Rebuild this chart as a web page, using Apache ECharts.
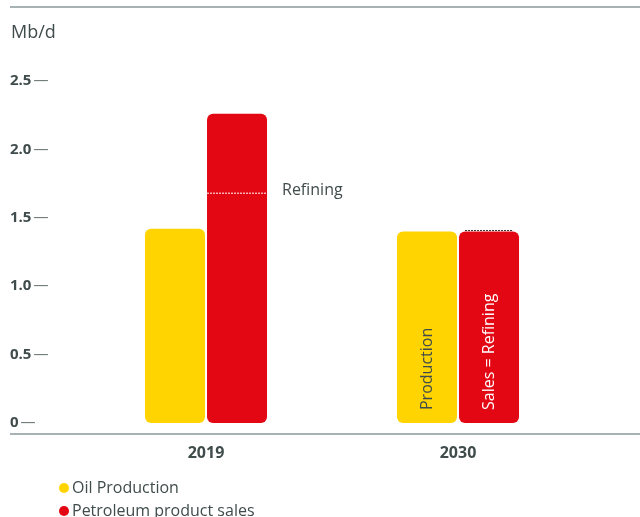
<!DOCTYPE html>
<html>
<head>
<meta charset="utf-8">
<script src="https://cdn.jsdelivr.net/npm/echarts@6/dist/echarts.min.js"></script>
<style>html,body{margin:0;padding:0;background:#fff;}#c{width:640px;height:517px;}</style>
</head>
<body>
<div id="c"></div>
<script>
var categories = ['2019', '2030'];
var oilProduction = [1.42, 1.40];
var productSales = [2.26, 1.40];
var refining = [1.68, 1.40];
var barInnerLabels = [['', ''], ['Production', 'Sales = Refining']];
var refiningText = 'Refining';
var unitText = 'Mb/d';
var seriesNames = ['Oil Production', 'Petroleum product sales'];

var FONT = '"Open Sans", sans-serif';
var TXT = '#404b4b';
var YEL = '#FFD400';
var RED = '#E30613';
var BAR_W = 60;

var chart = echarts.init(document.getElementById('c'), null, {renderer: 'canvas'});

function inner(i, j, color) {
  var t = barInnerLabels[i][j];
  if (!t) return {show: false};
  return {show: true, formatter: t, position: 'insideBottom', rotate: 90, align: 'left', verticalAlign: 'middle',
          distance: 13, color: color, fontFamily: FONT, fontSize: 16};
}

function legendAt(i, top) {
  return {
    orient: 'vertical', left: 54, top: top, icon: 'circle', itemWidth: 10, itemHeight: 10,
    data: [seriesNames[i]],
    textStyle: {fontFamily: FONT, fontSize: 16, color: TXT, padding: [0,0,0,-2]}
  };
}

chart.setOption({
  animation: false,
  title: {text: unitText, left: 6, top: 19, textStyle: {fontFamily: FONT, fontSize: 18, fontWeight: 'normal', color: TXT}},
  grid: {left: 80, right: 56, top: 81, bottom: 94},
  legend: [legendAt(0, 475), legendAt(1, 498)],
  xAxis: {
    type: 'category', data: categories,
    axisLine: {show: false}, axisTick: {show: false},
    axisLabel: {margin: 22, fontFamily: FONT, fontSize: 16, fontWeight: 'bold', color: TXT}
  },
  yAxis: {
    type: 'value', min: 0, max: 2.5, interval: 0.5,
    splitLine: {show: false}, axisLine: {show: false}, axisTick: {show: false},
    axisLabel: {
      align: 'left', margin: 70,
      formatter: function (v) { return '{b|' + (v === 0 ? '0' : v.toFixed(1)) + '}{d|—}'; },
      rich: {
        b: {fontFamily: FONT, fontSize: 15, fontWeight: 'bold', color: TXT},
        d: {fontFamily: FONT, fontSize: 15, color: '#6a7676', padding: [0,0,0,2]}
      }
    }
  },
  graphic: [
    {type: 'line', shape: {x1: 10, y1: 7, x2: 640, y2: 7}, style: {stroke: '#8c9898', lineWidth: 1.5}},
    {type: 'line', shape: {x1: 10, y1: 434, x2: 640, y2: 434}, style: {stroke: '#8c9898', lineWidth: 1.5}}
  ],
  series: [
    {
      name: seriesNames[0], type: 'bar', barWidth: BAR_W, barGap: '3.4%',
      itemStyle: {color: YEL, borderRadius: 6},
      data: oilProduction.map(function (v, i) { return {value: v, label: inner(i, 0, TXT)}; })
    },
    {
      name: seriesNames[1], type: 'bar', barWidth: BAR_W, barGap: '3.4%',
      itemStyle: {color: RED, borderRadius: 6},
      data: productSales.map(function (v, i) { return {value: v, label: inner(i, 1, '#ffffff')}; })
    },
    {
      name: 'refiningLine', type: 'custom', silent: true, z: 5,
      data: categories.map(function (c, i) { return [i, refining[i], productSales[i]]; }),
      renderItem: function (params, api) {
        var ref = api.value(1), sales = api.value(2);
        var p = api.coord([api.value(0), ref]);
        var x0 = p[0] + 1;
        var below = ref < sales;
        var y = below ? p[1] : p[1] - 1;
        var children = [{
          type: 'line',
          shape: {x1: below ? x0 : x0 + 6, y1: y, x2: below ? x0 + BAR_W : x0 + BAR_W - 6, y2: y},
          style: {stroke: below ? '#ffffff' : '#333333', lineWidth: 1, lineDash: [2, 1]}
        }];
        if (below) {
          children.push({type: 'text', style: {text: refiningText, x: x0 + BAR_W + 15, y: p[1] - 3,
            verticalAlign: 'middle', align: 'left', fill: TXT, font: '16px ' + FONT}});
        }
        return {type: 'group', children: children};
      }
    }
  ]
});
</script>
</body>
</html>
